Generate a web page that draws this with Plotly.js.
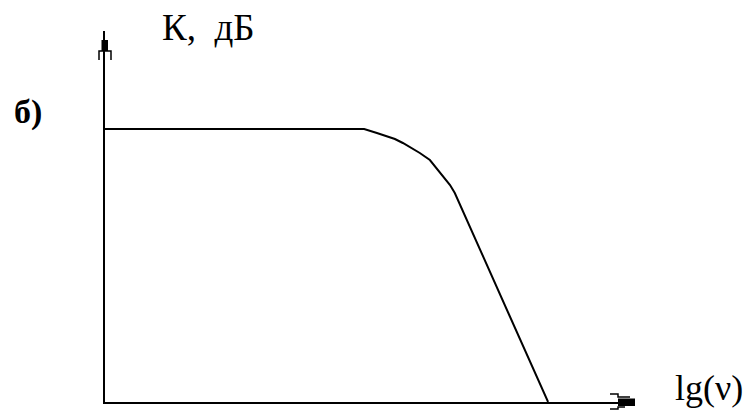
<!DOCTYPE html>
<html>
<head>
<meta charset="utf-8">
<script src="https://cdn.plot.ly/plotly-3.0.1.min.js"></script>
<style>html,body{margin:0;padding:0;background:#fff;}#chart{width:749px;height:411px;}</style>
</head>
<body>
<div id="chart"></div>
<script>
// Data: frequency response K (dB) vs lg(nu), arbitrary units
const lgNu = [0, 4.89, 5.13, 5.32, 5.47, 5.62, 5.79, 5.94, 6.13, 6.32, 6.51, 6.60, 8.36];
const K_dB = [27.3, 27.3, 26.9, 26.6, 26.3, 25.9, 25.4, 24.9, 24.2, 23.0, 21.7, 20.9, 0];
const yLabel = "К,  дБ";
const xLabel = "lg(ν)";
const panelLabel = "б)";

const W = 749, H = 411;
const M = {l: 105, r: 114, t: 31, b: 9};
const PW = W - M.l - M.r, PH = H - M.t - M.b;
const px = x => (x - M.l) / PW;
const py = y => (H - M.b - y) / PH;
function pathPx(pts) {
  return pts.map((p, i) => (i === 0 ? 'M' : 'L') + px(p[0]).toFixed(5) + ',' + py(p[1]).toFixed(5)).join(' ');
}

const serif = "Liberation Serif, Times New Roman, serif";

const trace = {
  x: lgNu, y: K_dB, mode: 'lines', type: 'scatter',
  line: {color: '#000', width: 2, shape: 'linear'},
  hoverinfo: 'skip'
};

const shapes = [
  // y-axis arrowhead
  {type: 'rect', xref: 'paper', yref: 'paper', x0: px(101.5), x1: px(108), y0: py(51), y1: py(40), fillcolor: '#000', line: {width: 0}},
  {type: 'path', xref: 'paper', yref: 'paper', path: pathPx([[99,60],[99,51],[111,51],[111,60]]), line: {color: '#000', width: 1.5}},
  // x-axis arrowhead
  {type: 'rect', xref: 'paper', yref: 'paper', x0: px(618), x1: px(635), y0: py(406), y1: py(398.5), fillcolor: '#000', line: {width: 0}},
  {type: 'path', xref: 'paper', yref: 'paper', path: pathPx([[610,394],[618,394],[618,397],[630,397]]), line: {color: '#000', width: 1.5}},
  {type: 'path', xref: 'paper', yref: 'paper', path: pathPx([[610,409],[618,409],[618,407],[625,407]]), line: {color: '#000', width: 1.5}}
];

const annotations = [
  {text: yLabel, xref: 'paper', yref: 'paper', x: px(208), y: py(27), xanchor: 'center', yanchor: 'middle', showarrow: false, font: {family: serif, size: 37, color: '#000'}},
  {text: '<b>' + panelLabel + '</b>', xref: 'paper', yref: 'paper', x: px(28), y: py(112), xanchor: 'center', yanchor: 'middle', showarrow: false, font: {family: serif, size: 34, color: '#000'}},
  {text: xLabel, xref: 'paper', yref: 'paper', x: px(709), y: py(388), xanchor: 'center', yanchor: 'middle', showarrow: false, font: {family: serif, size: 36, color: '#000'}}
];

const layout = {
  width: W, height: H,
  margin: M,
  paper_bgcolor: '#fff', plot_bgcolor: '#fff',
  showlegend: false,
  xaxis: {range: [0, PW / 53], showline: true, linecolor: '#000', linewidth: 2, showgrid: false, zeroline: false, showticklabels: false, ticks: '', fixedrange: true},
  yaxis: {range: [0, PH / 10], showline: true, linecolor: '#000', linewidth: 2, showgrid: false, zeroline: false, showticklabels: false, ticks: '', fixedrange: true},
  shapes: shapes,
  annotations: annotations
};

Plotly.newPlot('chart', [trace], layout, {displayModeBar: false, staticPlot: true});
</script>
</body>
</html>
